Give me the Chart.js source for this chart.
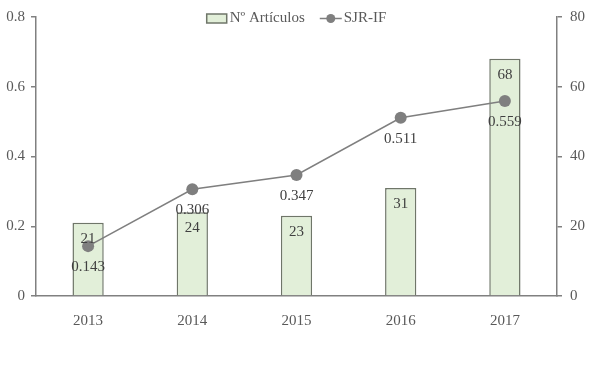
<!DOCTYPE html>
<html>
<head>
<meta charset="utf-8">
<script src="https://cdn.jsdelivr.net/npm/chart.js@4/dist/chart.umd.min.js"></script>
<style>
html,body{margin:0;padding:0;background:#fff;}
</style>
</head>
<body>
<canvas id="c" width="589" height="365"></canvas>
<script>
const categories = ['2013', '2014', '2015', '2016', '2017'];
const articulos = [21, 24, 23, 31, 68];
const sjrIF = [0.143, 0.306, 0.347, 0.511, 0.559];
const seriesNames = ['Nº Artículos', 'SJR-IF'];

const FONT = "'Liberation Serif', 'Times New Roman', serif";
const AXIS = '#808080';
const TXT = '#595959';
const LBL = '#404040';
const BAR_FILL = '#E2EFD9';
const BAR_EDGE = '#6f7669';
const LINE = '#7f7f7f';

Chart.defaults.font.family = FONT;
Chart.defaults.font.size = 15;
Chart.defaults.color = TXT;

const labelsPlugin = {
  id: 'valueLabels',
  afterDatasetsDraw(chart) {
    const ctx = chart.ctx;
    ctx.save();
    ctx.fillStyle = LBL;
    ctx.font = '15px ' + FONT;
    ctx.textAlign = 'center';
    ctx.textBaseline = 'middle';
    const barMeta = chart.getDatasetMeta(0);
    barMeta.data.forEach((el, i) => {
      ctx.fillText(String(articulos[i]), el.x, el.y + 16);
    });
    const lineMeta = chart.getDatasetMeta(1);
    lineMeta.data.forEach((el, i) => {
      ctx.fillText(sjrIF[i].toFixed(3), el.x, el.y + 21);
    });
    ctx.restore();
  }
};

const legendPlugin = {
  id: 'customLegend',
  afterDraw(chart) {
    const ctx = chart.ctx;
    const area = chart.chartArea;
    ctx.save();
    ctx.font = '15px ' + FONT;
    ctx.textBaseline = 'middle';
    const boxW = 20, boxH = 9, gap1 = 3, gap2 = 15, lineW = 22, gap3 = 2;
    const t1 = ctx.measureText(seriesNames[0]).width;
    const t2 = ctx.measureText(seriesNames[1]).width;
    const total = boxW + gap1 + t1 + gap2 + lineW + gap3 + t2;
    let x = (area.left + area.right) / 2 - total / 2;
    const cy = 18.5;
    ctx.fillStyle = BAR_FILL;
    ctx.strokeStyle = BAR_EDGE;
    ctx.lineWidth = 1.5;
    ctx.fillRect(x, cy - boxH / 2, boxW, boxH);
    ctx.strokeRect(x, cy - boxH / 2, boxW, boxH);
    x += boxW + gap1;
    ctx.fillStyle = TXT;
    ctx.fillText(seriesNames[0], x, cy);
    x += t1 + gap2;
    ctx.strokeStyle = LINE;
    ctx.lineWidth = 1.5;
    ctx.beginPath();
    ctx.moveTo(x, cy);
    ctx.lineTo(x + lineW, cy);
    ctx.stroke();
    ctx.fillStyle = LINE;
    ctx.beginPath();
    ctx.arc(x + lineW / 2, cy, 4.5, 0, Math.PI * 2);
    ctx.fill();
    x += lineW + gap3;
    ctx.fillStyle = TXT;
    ctx.fillText(seriesNames[1], x, cy);
    ctx.restore();
  }
};

new Chart(document.getElementById('c'), {
  data: {
    labels: categories,
    datasets: [
      {
        type: 'bar',
        label: seriesNames[0],
        data: articulos,
        yAxisID: 'y1',
        backgroundColor: BAR_FILL,
        borderColor: BAR_EDGE,
        borderWidth: 1.5,
        categoryPercentage: 1,
        barPercentage: 0.3,
        order: 2
      },
      {
        type: 'line',
        label: seriesNames[1],
        data: sjrIF,
        yAxisID: 'y',
        borderColor: LINE,
        backgroundColor: LINE,
        borderWidth: 1.5,
        pointRadius: 6,
        pointBackgroundColor: LINE,
        pointBorderColor: LINE,
        pointBorderWidth: 0,
        tension: 0,
        order: 1
      }
    ]
  },
  options: {
    responsive: false,
    animation: false,
    layout: { padding: { top: 14, left: 0, right: 0, bottom: 0 } },
    plugins: { legend: { display: false }, tooltip: { enabled: false } },
    scales: {
      x: {
        grid: { drawOnChartArea: false, drawTicks: false },
        border: { color: AXIS, width: 1.5 },
        ticks: { padding: 16, color: TXT, font: { size: 15 } },
        afterFit(s) { s.height = 69; }
      },
      y: {
        position: 'left',
        min: 0, max: 0.8,
        ticks: { stepSize: 0.2, padding: 6, color: TXT, font: { size: 15 } },
        grid: { drawOnChartArea: false, drawTicks: true, tickLength: 5, color: AXIS, lineWidth: 1.5 },
        border: { color: AXIS, width: 1.5 },
        afterFit(s) { s.width = 36; }
      },
      y1: {
        position: 'right',
        min: 0, max: 80,
        ticks: { stepSize: 20, padding: 8, color: TXT, font: { size: 15 } },
        grid: { drawOnChartArea: false, drawTicks: true, tickLength: 5, color: AXIS, lineWidth: 1.5 },
        border: { color: AXIS, width: 1.5 },
        afterFit(s) { s.width = 32; }
      }
    }
  },
  plugins: [labelsPlugin, legendPlugin]
});
</script>
</body>
</html>
